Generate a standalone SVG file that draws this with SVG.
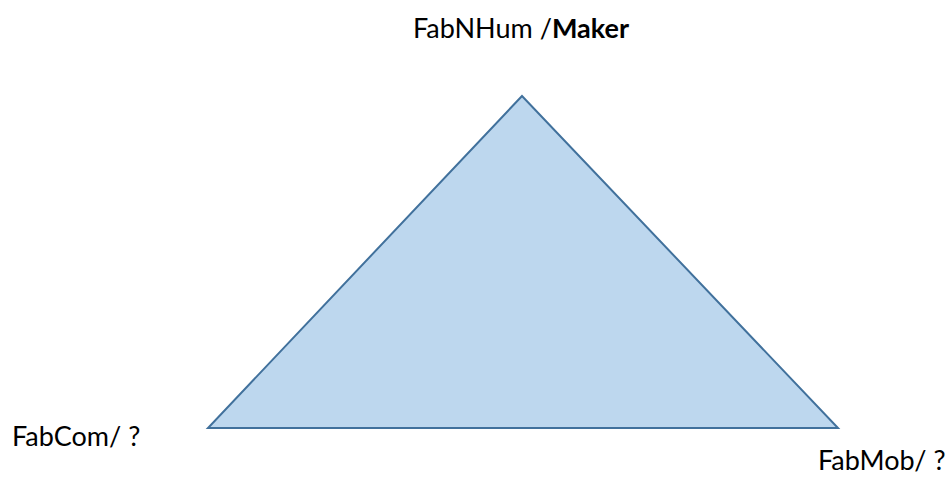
<svg xmlns="http://www.w3.org/2000/svg" width="949" height="483" viewBox="0 0 949 483">
<style>
.lbl{font-family:Lato,"Liberation Sans",sans-serif;font-size:27px;fill:#000}
.tri{fill:#BDD7EE;stroke:#41719C;stroke-width:2;stroke-linejoin:miter}
</style>
<rect width="949" height="483" fill="#fff"/>
<g id="triangle"><polygon class="tri" points="522,96 208,428 838,428"/></g>
<g id="connectors"></g>
<g id="top-label"><text class="lbl" x="413" y="38">FabNHum /<tspan font-weight="bold">Maker</tspan></text></g>
<g id="left-label"><text class="lbl" x="12" y="446">FabCom/ ?</text></g>
<g id="right-label"><text class="lbl" x="818" y="470">FabMob/ ?</text></g>
</svg>
